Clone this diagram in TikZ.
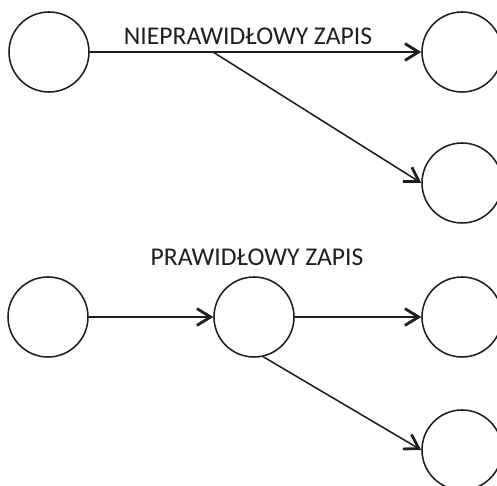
\documentclass[tikz,border=0pt]{standalone}
\usepackage{fontspec}
\setmainfont{Carlito}
\usetikzlibrary{arrows.meta, positioning}
\definecolor{border}{RGB}{30,30,30}
\tikzset{
    event/.style={
        circle,
        draw=border,
        line width=1.1pt,
        minimum size=20mm,
        inner sep=0pt
    },
    caption/.style={
        font=\fontsize{18.2}{20}\selectfont,
        text=border,
        inner sep=0pt
    }
}

\begin{document}
\begin{tikzpicture}[
    x=0.25mm, y=-0.25mm,
    trans/.style={
        -{Straight Barb[length=3.4mm, width=4.2mm, line width=2pt]},
        line width=1.1pt,
        draw=border
    }
]
\useasboundingbox (0,0) rectangle (497,486);

% wrong way: the branch leaves from the middle of the arrow
\node[event] (a1) at (49,52) {};
\node[event] (a2) at (462,52) {};
\node[event] (a3) at (462,183) {};
\coordinate (split) at (213,52);
\node[caption] (wrong) at (248,36) {NIEPRAWIDŁOWY ZAPIS};

\draw[trans] (a1.east) -- (a2.west);
\draw[trans] (split) -- (a3.west);

% right way: the branch leaves from an event
\node[caption] (right) at (257,257) {PRAWIDŁOWY ZAPIS};
\node[event] (b1) at (48,317) {};
\node[event] (b2) at (254,317) {};
\node[event] (b3) at (462,317) {};
\node[event] (b4) at (462,450) {};

\draw[trans] (b1.east) -- (b2.west);
\draw[trans] (b2.east) -- (b3.west);
\draw[trans] (b2.-77) -- (b4.west);

\end{tikzpicture}
\end{document}
